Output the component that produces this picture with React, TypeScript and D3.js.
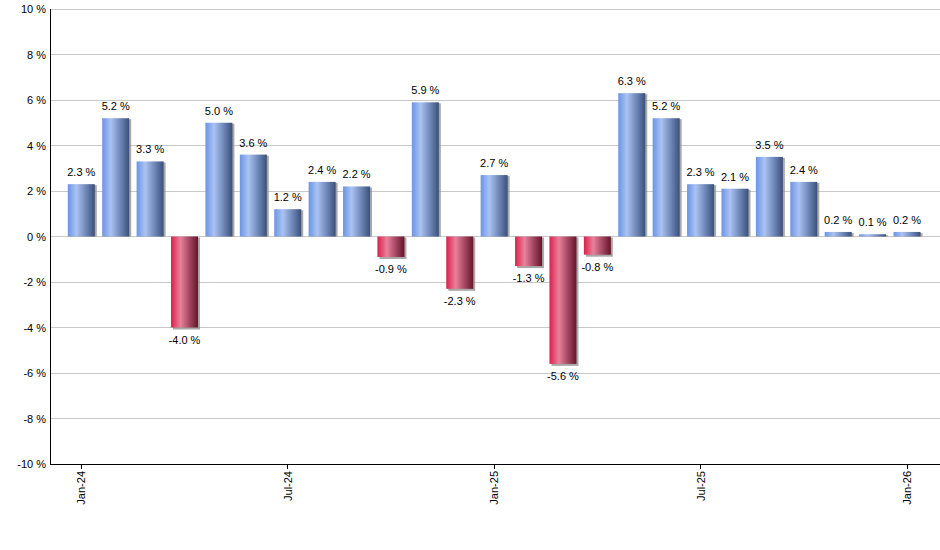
import { useEffect, useRef } from 'react';
import * as d3 from 'd3';

const months = [
  'Jan-24', 'Feb-24', 'Mar-24', 'Apr-24', 'May-24', 'Jun-24', 'Jul-24', 'Aug-24', 'Sep-24',
  'Oct-24', 'Nov-24', 'Dec-24', 'Jan-25', 'Feb-25', 'Mar-25', 'Apr-25', 'May-25', 'Jun-25',
  'Jul-25', 'Aug-25', 'Sep-25', 'Oct-25', 'Nov-25', 'Dec-25', 'Jan-26',
];
const returns = [
  2.3, 5.2, 3.3, -4.0, 5.0, 3.6, 1.2, 2.4, 2.2, -0.9, 5.9, -2.3, 2.7,
  -1.3, -5.6, -0.8, 6.3, 5.2, 2.3, 2.1, 3.5, 2.4, 0.2, 0.1, 0.2,
];
const xTickLabels = ['Jan-24', 'Jul-24', 'Jan-25', 'Jul-25', 'Jan-26'];
const yTicks = [-10, -8, -6, -4, -2, 0, 2, 4, 6, 8, 10];

const W = 940;
const H = 550;
const FONT = '"Liberation Sans", Arial, sans-serif';

export default function App() {
  const svgRef = useRef<SVGSVGElement>(null);

  useEffect(() => {
    if (!svgRef.current) return;
    const svg = d3.select(svgRef.current);
    svg.selectAll('*').remove();

    const left = 50;
    const right = 940;
    const top = 9;
    const bottom = 464;

    const x = d3.scalePoint<string>().domain(months).range([81.3, 907]);
    const y = d3.scaleLinear().domain([-10, 10]).range([bottom, top]);
    const barW = 27;

    // gradients
    const defs = svg.append('defs');
    const addGrad = (id: string, stops: [number, string][]) => {
      const g = defs.append('linearGradient').attr('id', id)
        .attr('x1', '0%').attr('x2', '100%').attr('y1', '0%').attr('y2', '0%');
      stops.forEach(([o, c]) => g.append('stop').attr('offset', `${o}%`).attr('stop-color', c));
    };
    addGrad('blueGrad', [[0, '#6b94e6'], [32, '#aac3f2'], [70, '#6a83b3'], [100, '#3a5079']]);
    addGrad('redGrad', [[0, '#dc1f4c'], [35, '#e8819b'], [70, '#a04460'], [100, '#651428']]);

    // grid
    svg.append('g')
      .selectAll('line')
      .data(yTicks.filter(t => t !== -10))
      .join('line')
      .attr('x1', left).attr('x2', right)
      .attr('y1', d => y(d)).attr('y2', d => y(d))
      .attr('stroke', '#c8c8c8').attr('stroke-width', 1)
      .attr('shape-rendering', 'crispEdges');

    // bars
    const bars = svg.append('g');
    months.forEach((m, i) => {
      const v = returns[i];
      const cx = x(m)!;
      const y0 = y(Math.max(0, v));
      const h = Math.abs(y(v) - y(0));
      bars.append('rect')
        .attr('x', cx - barW / 2 + 2)
        .attr('y', v >= 0 ? y0 + 1 : y0 + 1)
        .attr('width', barW)
        .attr('height', v >= 0 ? Math.max(0, h - 1) : h + 1)
        .attr('fill', '#8c8c8c')
        .attr('opacity', 0.75);
      bars.append('rect')
        .attr('x', cx - barW / 2)
        .attr('y', y0)
        .attr('width', barW)
        .attr('height', Math.max(h, 1))
        .attr('fill', v >= 0 ? 'url(#blueGrad)' : 'url(#redGrad)');
      bars.append('text')
        .attr('x', cx)
        .attr('y', v >= 0 ? y(v) - 8 : y(v) + 16)
        .attr('text-anchor', 'middle')
        .attr('font-family', FONT)
        .attr('font-size', 11)
        .attr('fill', '#000')
        .text(`${v.toFixed(1)} %`);
    });

    // axes
    svg.append('line')
      .attr('x1', left).attr('x2', left).attr('y1', top).attr('y2', bottom)
      .attr('stroke', '#000').attr('shape-rendering', 'crispEdges');
    svg.append('line')
      .attr('x1', left).attr('x2', right).attr('y1', bottom).attr('y2', bottom)
      .attr('stroke', '#000').attr('shape-rendering', 'crispEdges');

    svg.append('g')
      .selectAll('text')
      .data(yTicks)
      .join('text')
      .attr('x', left - 4)
      .attr('y', d => y(d) + 4)
      .attr('text-anchor', 'end')
      .attr('font-family', FONT)
      .attr('font-size', 11)
      .attr('fill', '#000')
      .text(d => `${d} %`);

    const xt = svg.append('g')
      .selectAll('g')
      .data(xTickLabels)
      .join('g')
      .attr('transform', d => `translate(${x(d)},${bottom})`);
    xt.append('line').attr('y1', 0).attr('y2', 5).attr('stroke', '#000')
      .attr('shape-rendering', 'crispEdges');
    xt.append('text')
      .attr('transform', 'translate(4,7) rotate(-90)')
      .attr('text-anchor', 'end')
      .attr('font-family', FONT)
      .attr('font-size', 11)
      .attr('fill', '#000')
      .text(d => d);
  }, []);

  return (
    <svg
      ref={svgRef}
      width={W}
      height={H}
      style={{ position: 'absolute', left: 0, top: 0, background: '#fff' }}
    />
  );
}
